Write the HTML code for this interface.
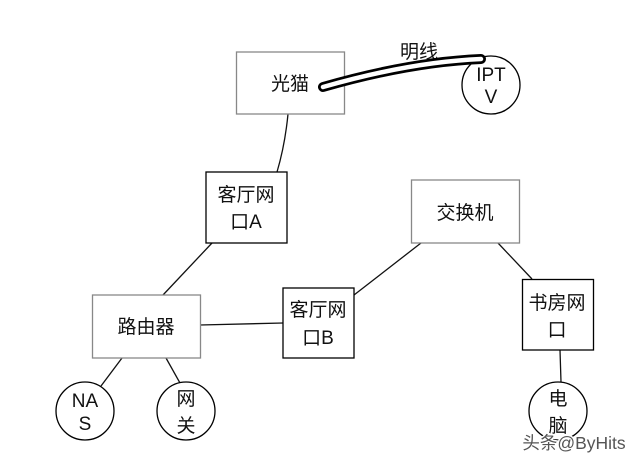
<!DOCTYPE html>
<html>
<head>
<meta charset="utf-8">
<style>
html,body{margin:0;padding:0;background:#fff}
svg{display:block}
text{font-family:"Liberation Sans","Noto Sans CJK SC",sans-serif;font-size:19px;fill:#111;text-anchor:middle}
</style>
</head>
<body>
<svg width="640" height="465" viewBox="0 0 640 465" xmlns="http://www.w3.org/2000/svg">
<rect width="640" height="465" fill="#fff"/>
<g fill="none" stroke="#111" stroke-width="1.3">
<path d="M288 114Q285 145 277 172"/>
<path d="M212 243L163 295"/>
<path d="M200 325L283 323"/>
<path d="M354 295L421 243"/>
<path d="M498 243L532 279"/>
<path d="M560 350L561 382"/>
<path d="M122 358L101 386"/>
<path d="M166 358L180 383"/>
</g>
<g fill="#fff" stroke="#888" stroke-width="1.3">
<rect x="236.500" y="52" width="108" height="62"/>
<rect x="92.500" y="295" width="108" height="63"/>
<rect x="411.500" y="180" width="108" height="63"/>
</g>
<g fill="#fff" stroke="#000" stroke-width="1.3">
<rect x="206" y="172" width="81" height="71"/>
<rect x="283" y="288" width="71" height="70"/>
<rect x="522.500" y="279.500" width="71" height="70.500"/>
<circle cx="491" cy="85" r="29"/>
<circle cx="85" cy="411" r="29"/>
<circle cx="186" cy="411" r="29"/>
<circle cx="558" cy="411" r="29"/>
</g>
<text x="419" y="58">明线</text>
<path d="M323 87Q410 62 481 59" fill="none" stroke="#000" stroke-width="10" stroke-linecap="round"/>
<path d="M323 87Q410 62 481 59" fill="none" stroke="#fff" stroke-width="4.500" stroke-linecap="round"/>
<text x="290" y="90">光猫</text>
<text x="246" y="201">客厅网</text>
<text x="246" y="228">口A</text>
<text x="465" y="219">交换机</text>
<text x="146" y="333">路由器</text>
<text x="318" y="316">客厅网</text>
<text x="318" y="344">口B</text>
<text x="557" y="309">书房网</text>
<text x="557" y="336">口</text>
<text x="491" y="81">IPT</text>
<text x="491" y="103">V</text>
<text x="85" y="407">NA</text>
<text x="85" y="430">S</text>
<text x="186" y="405">网</text>
<text x="186" y="432">关</text>
<text x="558" y="405">电</text>
<text x="558" y="432">脑</text>
<text x="574" y="449" style="font-size:17.500px;fill:#555;stroke:#fff;stroke-width:3;paint-order:stroke">头条@ByHits</text>
</svg>
</body>
</html>
